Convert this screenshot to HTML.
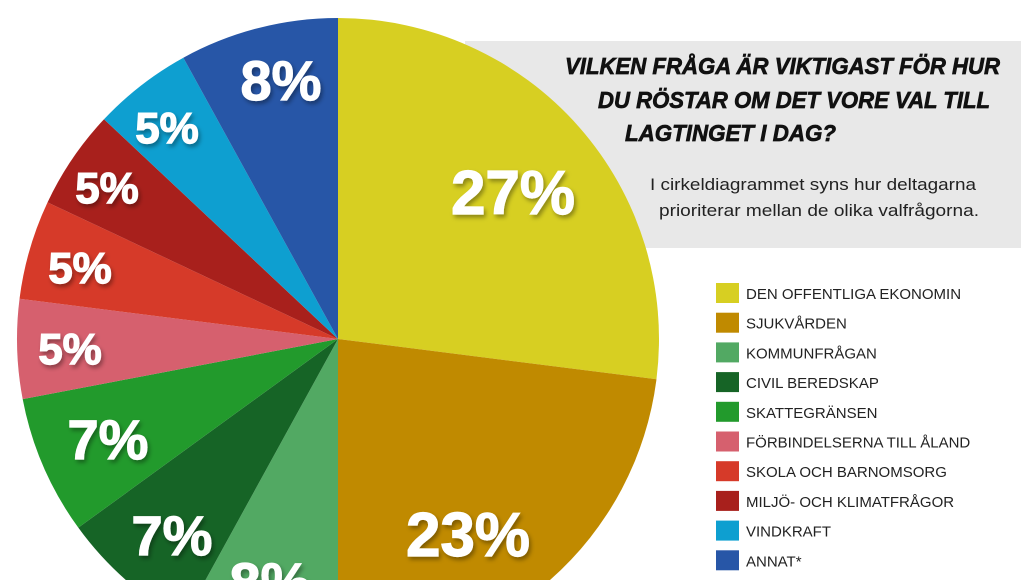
<!DOCTYPE html>
<html><head><meta charset="utf-8">
<style>
html,body{margin:0;padding:0;background:#fff;}
body{width:1021px;height:580px;overflow:hidden;position:relative;font-family:"Liberation Sans",sans-serif;}
svg{position:absolute;left:0;top:0;}
</style></head>
<body>
<svg id="s" width="1021" height="580" viewBox="0 0 1021 580">
<defs><filter id="sh" x="-20%" y="-20%" width="140%" height="140%"><feDropShadow dx="2" dy="3" stdDeviation="2" flood-color="#000" flood-opacity="0.35"/></filter></defs>
<rect x="465" y="41" width="556" height="207" fill="#e8e8e8"/>
<g id="pie"></g>
<g font-family="Liberation Sans, sans-serif" font-weight="bold" font-style="italic" font-size="23" fill="#111" stroke="#111" stroke-width="0.7" text-anchor="end">
<text x="1000" y="74" textLength="435" lengthAdjust="spacingAndGlyphs">VILKEN FRÅGA ÄR VIKTIGAST FÖR HUR</text>
<text x="990" y="108" textLength="392" lengthAdjust="spacingAndGlyphs">DU RÖSTAR OM DET VORE VAL TILL</text>
<text x="836" y="141" textLength="211" lengthAdjust="spacingAndGlyphs">LAGTINGET I DAG?</text>
</g>
<g font-family="Liberation Sans, sans-serif" font-size="17" fill="#222">
<text x="650" y="190" textLength="326" lengthAdjust="spacingAndGlyphs">I cirkeldiagrammet syns hur deltagarna</text>
<text x="659" y="216" textLength="320" lengthAdjust="spacingAndGlyphs">prioriterar mellan de olika valfrågorna.</text>
</g>
<g id="leg" font-family="Liberation Sans, sans-serif" font-size="15" fill="#222"></g>
<g id="lab" font-family="Liberation Sans, sans-serif" font-weight="900" fill="#fff" stroke="#fff" stroke-width="1.2" text-anchor="middle" filter="url(#sh)"></g>
</svg>
<script>
var cx=338,cy=339,r=321;
var d=[[27,"#d7cf22","DEN OFFENTLIGA EKONOMIN"],[23,"#c08a00","SJUKVÅRDEN"],[8,"#52a963","KOMMUNFRÅGAN"],[7,"#166426","CIVIL BEREDSKAP"],[7,"#229a2c","SKATTEGRÄNSEN"],[5,"#d6606e","FÖRBINDELSERNA TILL ÅLAND"],[5,"#d63a29","SKOLA OCH BARNOMSORG"],[5,"#a8201c","MILJÖ- OCH KLIMATFRÅGOR"],[5,"#0e9fd0","VINDKRAFT"],[8,"#2756a7","ANNAT*"]];
var ns="http://www.w3.org/2000/svg",pie=document.getElementById("pie"),leg=document.getElementById("leg"),lab=document.getElementById("lab");
var a=0;
function pt(t){var an=t/100*2*Math.PI;return [cx+r*Math.sin(an),cy-r*Math.cos(an)];}
d.forEach(function(x,i){
 var p1=pt(a),p2=pt(a+x[0]);
 var e=document.createElementNS(ns,"path");
 e.setAttribute("d","M"+cx+","+cy+"L"+p1[0]+","+p1[1]+"A"+r+","+r+" 0 "+(x[0]>50?1:0)+" 1 "+p2[0]+","+p2[1]+"Z");
 e.setAttribute("fill",x[1]);pie.appendChild(e);a+=x[0];
 var y=283+i*29.7;
 var q=document.createElementNS(ns,"rect");q.setAttribute("x",716);q.setAttribute("y",y);q.setAttribute("width",23);q.setAttribute("height",20);q.setAttribute("fill",x[1]);leg.appendChild(q);
 var t=document.createElementNS(ns,"text");t.setAttribute("x",746);t.setAttribute("y",y+16);t.textContent=x[2];leg.appendChild(t);
});
var L=[["27%",513,214,62],["23%",468,556,62],["8%",281,100,56],["5%",167,143,44],["5%",107,203,44],["5%",80,283,44],["5%",70,364,44],["7%",108,459,56],["7%",172,555,56],["8%",270,602,56]];
L.forEach(function(l){var t=document.createElementNS(ns,"text");t.setAttribute("x",l[1]);t.setAttribute("y",l[2]);t.setAttribute("font-size",l[3]);t.textContent=l[0];lab.appendChild(t);});
</script>
</body></html>
